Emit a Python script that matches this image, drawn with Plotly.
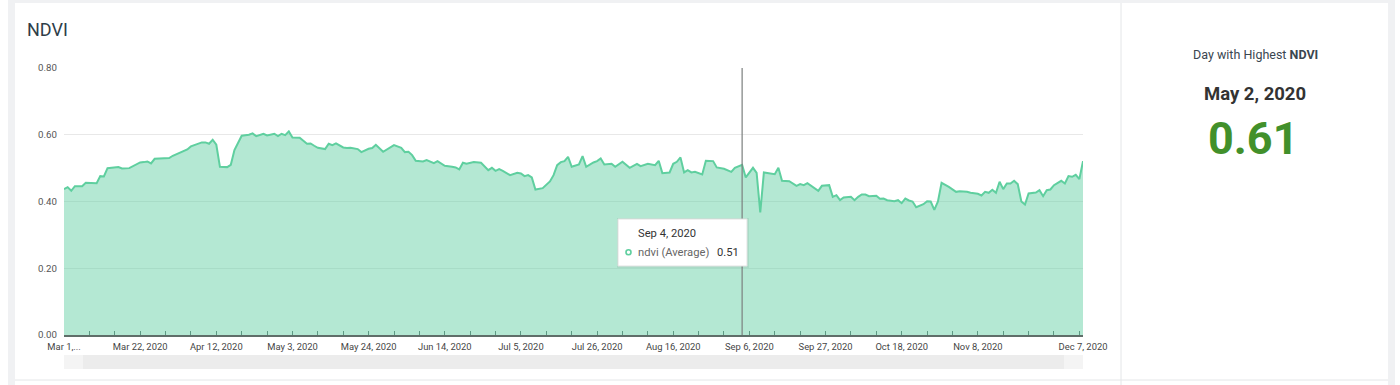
import plotly.graph_objects as go
from datetime import datetime

# ---------------- data ----------------
dates = [
    "2020-03-01", "2020-03-02", "2020-03-03", "2020-03-04", "2020-03-06", "2020-03-07",
    "2020-03-10", "2020-03-11", "2020-03-12", "2020-03-13", "2020-03-16", "2020-03-17",
    "2020-03-19", "2020-03-21", "2020-03-22", "2020-03-23", "2020-03-24", "2020-03-25",
    "2020-03-26", "2020-03-30", "2020-03-31", "2020-04-04", "2020-04-05", "2020-04-08",
    "2020-04-09", "2020-04-10", "2020-04-11", "2020-04-12", "2020-04-13", "2020-04-15",
    "2020-04-16", "2020-04-17", "2020-04-18", "2020-04-19", "2020-04-21", "2020-04-22",
    "2020-04-23", "2020-04-25", "2020-04-26", "2020-04-28", "2020-04-29", "2020-04-30",
    "2020-05-01", "2020-05-02", "2020-05-03", "2020-05-05", "2020-05-07", "2020-05-08",
    "2020-05-09", "2020-05-10", "2020-05-12", "2020-05-13", "2020-05-14", "2020-05-15",
    "2020-05-17", "2020-05-18", "2020-05-19", "2020-05-21", "2020-05-22", "2020-05-24",
    "2020-05-25", "2020-05-26", "2020-05-28", "2020-05-30", "2020-05-31", "2020-06-02",
    "2020-06-03", "2020-06-04", "2020-06-05", "2020-06-06", "2020-06-08", "2020-06-09",
    "2020-06-11", "2020-06-12", "2020-06-13", "2020-06-14", "2020-06-16", "2020-06-17",
    "2020-06-18", "2020-06-19", "2020-06-20", "2020-06-22", "2020-06-24", "2020-06-26",
    "2020-06-27", "2020-06-28", "2020-06-29", "2020-06-30", "2020-07-02", "2020-07-04",
    "2020-07-05", "2020-07-06", "2020-07-07", "2020-07-08", "2020-07-09", "2020-07-11",
    "2020-07-13", "2020-07-14", "2020-07-15", "2020-07-16", "2020-07-17", "2020-07-18",
    "2020-07-19", "2020-07-21", "2020-07-22", "2020-07-23", "2020-07-25", "2020-07-26",
    "2020-07-27", "2020-07-28", "2020-07-30", "2020-07-31", "2020-08-02", "2020-08-04",
    "2020-08-06", "2020-08-07", "2020-08-09", "2020-08-11", "2020-08-12", "2020-08-13",
    "2020-08-15", "2020-08-16", "2020-08-17", "2020-08-18", "2020-08-19", "2020-08-20",
    "2020-08-21", "2020-08-22", "2020-08-24", "2020-08-25", "2020-08-27", "2020-08-28",
    "2020-08-30", "2020-09-01", "2020-09-02", "2020-09-04", "2020-09-05", "2020-09-07",
    "2020-09-08", "2020-09-09", "2020-09-10", "2020-09-13", "2020-09-14", "2020-09-15",
    "2020-09-17", "2020-09-19", "2020-09-20", "2020-09-21", "2020-09-22", "2020-09-24",
    "2020-09-25", "2020-09-26", "2020-09-28", "2020-09-29", "2020-09-30", "2020-10-01",
    "2020-10-02", "2020-10-04", "2020-10-05", "2020-10-06", "2020-10-07", "2020-10-08",
    "2020-10-09", "2020-10-11", "2020-10-12", "2020-10-13", "2020-10-14", "2020-10-16",
    "2020-10-17", "2020-10-18", "2020-10-19", "2020-10-20", "2020-10-21", "2020-10-22",
    "2020-10-24", "2020-10-25", "2020-10-26", "2020-10-27", "2020-10-28", "2020-10-29",
    "2020-10-31", "2020-11-02", "2020-11-03", "2020-11-05", "2020-11-06", "2020-11-08",
    "2020-11-09", "2020-11-10", "2020-11-11", "2020-11-12", "2020-11-13", "2020-11-14",
    "2020-11-15", "2020-11-16", "2020-11-17", "2020-11-18", "2020-11-19", "2020-11-20",
    "2020-11-21", "2020-11-22", "2020-11-24", "2020-11-25", "2020-11-26", "2020-11-27",
    "2020-11-28", "2020-11-29", "2020-12-01", "2020-12-02", "2020-12-03", "2020-12-04",
    "2020-12-05", "2020-12-06", "2020-12-07",
]

ndvi = [
    0.437, 0.443, 0.432, 0.446, 0.446, 0.456,
    0.455, 0.476, 0.475, 0.500, 0.503, 0.499,
    0.500, 0.512, 0.517, 0.518, 0.520, 0.514,
    0.528, 0.530, 0.537, 0.556, 0.565, 0.577,
    0.577, 0.573, 0.585, 0.570, 0.504, 0.503,
    0.510, 0.554, 0.578, 0.597, 0.600, 0.604,
    0.596, 0.603, 0.598, 0.603, 0.596, 0.603,
    0.599, 0.610, 0.592, 0.591, 0.573, 0.574,
    0.567, 0.561, 0.557, 0.573, 0.569, 0.574,
    0.562, 0.560, 0.561, 0.557, 0.548, 0.558,
    0.560, 0.570, 0.549, 0.562, 0.569, 0.561,
    0.548, 0.549, 0.539, 0.522, 0.520, 0.524,
    0.515, 0.521, 0.514, 0.507, 0.504, 0.502,
    0.496, 0.516, 0.513, 0.518, 0.516, 0.494,
    0.501, 0.492, 0.497, 0.492, 0.479, 0.486,
    0.484, 0.476, 0.479, 0.472, 0.436, 0.440,
    0.460, 0.479, 0.509, 0.518, 0.521, 0.534,
    0.504, 0.511, 0.536, 0.504, 0.517, 0.521,
    0.529, 0.511, 0.513, 0.504, 0.519, 0.501,
    0.513, 0.506, 0.513, 0.509, 0.522, 0.485,
    0.487, 0.513, 0.519, 0.532, 0.487, 0.494,
    0.487, 0.489, 0.481, 0.522, 0.521, 0.502,
    0.498, 0.489, 0.501, 0.510, 0.472, 0.501,
    0.486, 0.367, 0.487, 0.482, 0.501, 0.462,
    0.461, 0.447, 0.452, 0.449, 0.455, 0.441,
    0.432, 0.447, 0.449, 0.414, 0.419, 0.404,
    0.412, 0.414, 0.404, 0.414, 0.421, 0.421,
    0.416, 0.417, 0.408, 0.409, 0.404, 0.401,
    0.404, 0.395, 0.409, 0.403, 0.400, 0.383,
    0.392, 0.401, 0.400, 0.375, 0.400, 0.456,
    0.444, 0.429, 0.431, 0.429, 0.426, 0.423,
    0.418, 0.429, 0.426, 0.435, 0.426, 0.459,
    0.437, 0.454, 0.454, 0.462, 0.452, 0.400,
    0.391, 0.424, 0.427, 0.434, 0.416, 0.434,
    0.436, 0.449, 0.462, 0.454, 0.476, 0.474,
    0.480, 0.467, 0.521,
]

tick_dates = ["2020-03-01", "2020-03-22", "2020-04-12", "2020-05-03", "2020-05-24",
              "2020-06-14", "2020-07-05", "2020-07-26", "2020-08-16", "2020-09-06",
              "2020-09-27", "2020-10-18", "2020-11-08", "2020-12-07"]
tick_labels = ["Mar 1,...", "Mar 22, 2020", "Apr 12, 2020", "May 3, 2020", "May 24, 2020",
               "Jun 14, 2020", "Jul 5, 2020", "Jul 26, 2020", "Aug 16, 2020", "Sep 6, 2020",
               "Sep 27, 2020", "Oct 18, 2020", "Nov 8, 2020", "Dec 7, 2020"]
y_ticks = [0.0, 0.2, 0.4, 0.6, 0.8]

hover_date = "2020-09-04"
series_name = "ndvi (Average)"
chart_title = "NDVI"

# ---------------- derived text ----------------
def fmt_date(s):
    d = datetime.strptime(s, "%Y-%m-%d")
    return f"{d.strftime('%b')} {d.day}, {d.year}"

imax = max(range(len(ndvi)), key=lambda i: ndvi[i])
max_date_text = fmt_date(dates[imax])
max_val_text = f"{ndvi[imax]:.2f}"
hover_val_text = f"{ndvi[dates.index(hover_date)]:.2f}"

# ---------------- layout helpers (page pixels -> paper) ----------------
W, H = 1400, 385
L, R, T, B = 64, 1083, 68, 335


def px(xp):
    return (xp - L) / (R - L)


def py(yp):
    return (B - yp) / (B - T)


FONT = "Roboto, 'Open Sans', sans-serif"
LINE = "#5fcf9f"

fig = go.Figure()
fig.add_trace(go.Scatter(
    x=dates, y=ndvi, mode="lines", name=series_name,
    line=dict(color=LINE, width=2),
    fill="tozeroy", fillcolor="rgba(98,207,164,0.48)",
    hoverinfo="skip",
))

shapes = []
frame = "#f0f1f3"
sep = "#e4e6e8"
# outer gray frame
shapes.append(dict(type="rect", xref="paper", yref="paper", x0=px(8), x1=px(15), y0=py(385), y1=py(0),
                   fillcolor=frame, line=dict(width=0), layer="below"))
shapes.append(dict(type="rect", xref="paper", yref="paper", x0=px(1388), x1=px(1395), y0=py(385), y1=py(0),
                   fillcolor=frame, line=dict(width=0), layer="below"))
shapes.append(dict(type="rect", xref="paper", yref="paper", x0=px(8), x1=px(1395), y0=py(3), y1=py(0),
                   fillcolor=frame, line=dict(width=0), layer="below"))
# card separators
shapes.append(dict(type="line", xref="paper", yref="paper", x0=px(15), x1=px(1388), y0=py(380), y1=py(380),
                   line=dict(color=sep, width=1)))
shapes.append(dict(type="line", xref="paper", yref="paper", x0=px(1121), x1=px(1121), y0=py(3), y1=py(385),
                   line=dict(color=sep, width=1)))
# scrollbar
shapes.append(dict(type="rect", xref="paper", yref="paper", x0=px(64), x1=px(1083), y0=py(369), y1=py(355),
                   fillcolor="#ececec", line=dict(width=0)))
shapes.append(dict(type="rect", xref="paper", yref="paper", x0=px(64), x1=px(83), y0=py(369), y1=py(355),
                   fillcolor="#f4f4f4", line=dict(width=0)))
shapes.append(dict(type="rect", xref="paper", yref="paper", x0=px(1064), x1=px(1083), y0=py(369), y1=py(355),
                   fillcolor="#f4f4f4", line=dict(width=0)))
# crosshair at hovered date
shapes.append(dict(type="line", xref="x", yref="paper", x0=hover_date, x1=hover_date, y0=0, y1=1,
                   line=dict(color="#7b7f7e", width=1.2)))
# tooltip box (shadow + box)
shapes.append(dict(type="rect", xref="paper", yref="paper", x0=px(617), x1=px(749), y0=py(268), y1=py(218),
                   fillcolor="rgba(0,0,0,0.06)", line=dict(width=0)))
shapes.append(dict(type="rect", xref="paper", yref="paper", x0=px(618), x1=px(747), y0=py(266), y1=py(219),
                   fillcolor="white", line=dict(color="#e2e2e2", width=1)))
shapes.append(dict(type="circle", xref="paper", yref="paper", x0=px(626), x1=px(631), y0=py(254.8), y1=py(249.8),
                   fillcolor="white", line=dict(color=LINE, width=1.6)))

ann = []
ann.append(dict(text=chart_title, x=px(25), y=py(29.5), xref="paper", yref="paper", xanchor="left",
                yanchor="middle", showarrow=False, font=dict(family=FONT, size=18, color="#2e3d49")))
ann.append(dict(text=f"Day with Highest <b>{chart_title}</b>", x=px(1255), y=py(54), xref="paper", yref="paper",
                xanchor="center", yanchor="middle", showarrow=False,
                font=dict(family=FONT, size=12.5, color="#3a4650")))
ann.append(dict(text=f"<b>{max_date_text}</b>", x=px(1255), y=py(93.5), xref="paper", yref="paper",
                xanchor="center", yanchor="middle", showarrow=False,
                font=dict(family=FONT, size=18.5, color="#333333")))
ann.append(dict(text=f"<b>{max_val_text}</b>", x=px(1253), y=py(138), xref="paper", yref="paper",
                xanchor="center", yanchor="middle", showarrow=False,
                font=dict(family=FONT, size=45, color="#42902b")))
# tooltip text
ann.append(dict(text=fmt_date(hover_date), x=px(635.5), y=py(233), xref="paper", yref="paper",
                xanchor="left", yanchor="middle", showarrow=False,
                font=dict(family=FONT, size=11.2, color="#333333")))
ann.append(dict(text=series_name, x=px(635.5), y=py(252.3), xref="paper", yref="paper",
                xanchor="left", yanchor="middle", showarrow=False,
                font=dict(family=FONT, size=11.2, color="#666666")))
ann.append(dict(text=hover_val_text, x=px(715.3), y=py(252.3), xref="paper", yref="paper",
                xanchor="left", yanchor="middle", showarrow=False,
                font=dict(family=FONT, size=11.2, color="#333333")))

fig.update_layout(
    width=W, height=H,
    margin=dict(l=L, r=W - R, t=T, b=H - B, pad=0),
    paper_bgcolor="white", plot_bgcolor="white",
    showlegend=False, hovermode=False,
    font=dict(family=FONT),
    shapes=shapes, annotations=ann,
    xaxis=dict(
        type="date", range=[dates[0], dates[-1]],
        tickmode="array", tickvals=tick_dates, ticktext=tick_labels,
        ticks="inside", ticklen=4, tickwidth=1, tickcolor="#5e9a84",
        minor=dict(ticks="inside", ticklen=4, tickwidth=1, tickcolor="#5e9a84",
                   dtick=7 * 86400000, tick0="2020-03-01", showgrid=False),
        showline=True, linecolor="#5f6e69", linewidth=1.5,
        showgrid=False, zeroline=False,
        tickfont=dict(family=FONT, size=9.4, color="#454545"),
        ticklabelstandoff=2,
        fixedrange=True,
    ),
    yaxis=dict(
        range=[0, 0.8], tickmode="array", tickvals=y_ticks, tickformat=".2f",
        showgrid=True, gridcolor="#e8e8e8", gridwidth=1,
        zeroline=False, showline=False, ticks="",
        tickfont=dict(family=FONT, size=9.7, color="#555555"),
        ticklabelstandoff=6,
        fixedrange=True,
    ),
)

fig.write_html("out.html", config={"displayModeBar": False},
               post_script="document.body.style.margin='0';document.body.style.overflow='hidden';")
